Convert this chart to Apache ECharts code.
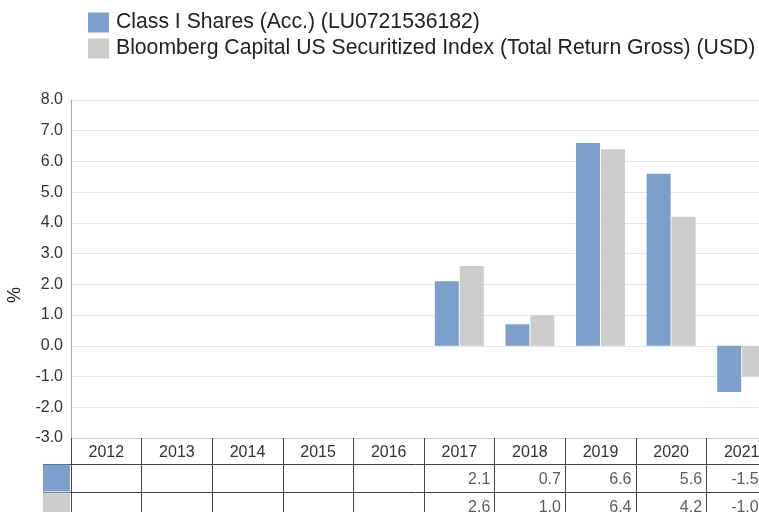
<!DOCTYPE html>
<html>
<head>
<meta charset="utf-8">
<script src="https://cdn.jsdelivr.net/npm/echarts@6/dist/echarts.min.js"></script>
<style>
  html, body { margin: 0; padding: 0; background: #fff; }
  #chart { width: 759px; height: 512px; }
</style>
</head>
<body>
<div id="chart"></div>
<script>
// data
const years = ['2012', '2013', '2014', '2015', '2016', '2017', '2018', '2019', '2020', '2021'];
const classI = [null, null, null, null, null, 2.1, 0.7, 6.6, 5.6, -1.5];
const bench = [null, null, null, null, null, 2.6, 1.0, 6.4, 4.2, -1.0];
const nameClassI = 'Class I Shares (Acc.) (LU0721536182)';
const nameBench = 'Bloomberg Capital US Securitized Index (Total Return Gross) (USD)';

const blue = '#7aa0cb';
const grey = '#cccccc';
const font = 'Liberation Sans, Arial, sans-serif';
const tableLine = '#444';

// rows of the table under the chart, built from the series arrays
const tableRows = [classI, bench];
const cellData = [];
tableRows.forEach(function (row, r) {
    row.forEach(function (v, i) {
        if (v === null) return;
        const item = { value: [i, r, v] };
        // last column is cut by the page edge, its text sits further left
        if (i === years.length - 1) item.label = { offset: [17, 2] };
        cellData.push(item);
    });
});

const chart = echarts.init(document.getElementById('chart'));

const option = {
    animation: false,
    textStyle: { fontFamily: font },
    legend: {
        orient: 'vertical',
        left: 88,
        top: 12,
        padding: 0,
        itemWidth: 21,
        itemHeight: 20,
        itemGap: 5,
        icon: 'rect',
        selectedMode: false,
        textStyle: { fontSize: 21.2, color: '#222', fontFamily: font, padding: [0, 0, 0, 2] },
        data: [nameClassI, nameBench],
    },
    grid: [
        { left: 71, right: -18, top: 100, bottom: 74, outerBoundsMode: 'none', containLabel: false },
        { left: 71, right: -18, top: 464, height: 56, outerBoundsMode: 'none', containLabel: false },
    ],
    xAxis: [
        {
            type: 'category',
            gridIndex: 0,
            data: years,
            axisLine: { onZero: false, lineStyle: { color: '#ccc' } },
            // dark ticks make the column lines of the header row
            axisTick: { show: true, length: 26, lineStyle: { color: tableLine } },
            axisLabel: { fontSize: 16, color: '#333', margin: 7, interval: 0 },
            splitLine: { show: false },
        },
        {
            type: 'category',
            gridIndex: 1,
            data: years,
            axisLine: { show: false },
            axisTick: { show: false },
            axisLabel: { show: false },
            splitLine: { show: true, interval: 0, lineStyle: { color: tableLine, width: 1 } },
        },
    ],
    yAxis: [
        {
            type: 'value',
            gridIndex: 0,
            min: -3,
            max: 8,
            interval: 1,
            name: '%',
            nameLocation: 'middle',
            nameGap: 47,
            nameTextStyle: { fontSize: 18, color: '#222', padding: [0, 52, 0, 0] },
            axisLine: { show: true, lineStyle: { color: '#aaa' } },
            axisTick: { show: false },
            axisLabel: {
                fontSize: 16,
                color: '#333',
                margin: 8,
                formatter: function (v) { return v.toFixed(1); },
            },
            splitLine: { lineStyle: { color: '#e6e6e6' } },
        },
        {
            type: 'category',
            gridIndex: 1,
            inverse: true,
            data: ['classI', 'bench'],
            axisLine: { show: true, lineStyle: { color: tableLine } },
            axisTick: { show: true, length: 28, lineStyle: { color: tableLine } },
            axisLabel: {
                margin: 1,
                formatter: function (v) { return v === 'classI' ? '{b|}' : '{g|}'; },
                rich: {
                    b: { backgroundColor: blue, width: 27, height: 27 },
                    g: { backgroundColor: grey, width: 27, height: 27 },
                },
            },
            splitLine: { show: true, interval: 0, lineStyle: { color: tableLine } },
        },
    ],
    series: [
        {
            name: nameClassI,
            type: 'bar',
            xAxisIndex: 0,
            yAxisIndex: 0,
            data: classI,
            barWidth: 24,
            barGap: '4%',
            itemStyle: { color: blue },
        },
        {
            name: nameBench,
            type: 'bar',
            xAxisIndex: 0,
            yAxisIndex: 0,
            data: bench,
            barWidth: 24,
            barGap: '4%',
            itemStyle: { color: grey },
        },
        {
            type: 'scatter',
            xAxisIndex: 1,
            yAxisIndex: 1,
            data: cellData,
            symbolSize: 1,
            itemStyle: { color: 'rgba(0,0,0,0)' },
            silent: true,
            z: 5,
            label: {
                show: true,
                position: 'inside',
                align: 'right',
                offset: [31, 2],
                fontSize: 16,
                color: '#333',
                formatter: function (p) { return p.value[2].toFixed(1); },
            },
        },
    ],
};

chart.setOption(option);
</script>
</body>
</html>
